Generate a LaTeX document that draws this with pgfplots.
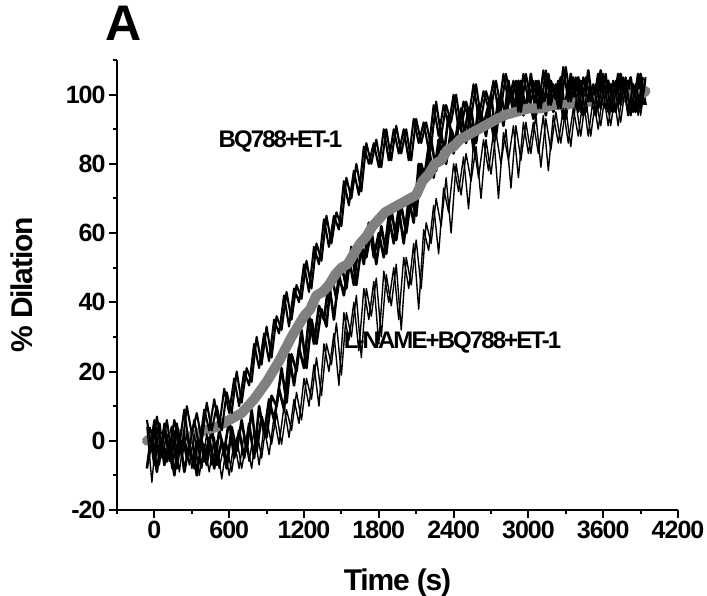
\documentclass[border=0pt]{standalone}
\usepackage{fontspec}
\setmainfont{Liberation Sans}[LetterSpace=-4]
\newfontfamily\tightfont{Liberation Sans}[LetterSpace=-8]
\usepackage{pgfplots}
\pgfplotsset{compat=1.18}
\definecolor{tracegray}{RGB}{128,128,128}
\begin{document}
\begin{tikzpicture}
\begin{axis}[
 scale only axis, width=561pt, height=450pt,
 xmin=-300, xmax=4200, ymin=-20, ymax=110,
 axis x line=bottom, axis y line=left,
 axis line style={-, line width=2pt},
 xtick={0,600,...,4200}, ytick={-20,0,...,100},
 minor xtick={-300,300,...,3900}, minor ytick={-10,10,...,110},
 tick align=outside, major tick length=8pt, minor tick length=4pt,
 tick style={black, line width=2pt},
 scaled x ticks=false,
 /pgf/number format/assume math mode=true,
 /pgf/number format/1000 sep={},
 tick label style={font=\bfseries\fontsize{25}{25}\selectfont},
 xlabel={Time (s)}, ylabel={\% Dilation},
 label style={font=\bfseries\fontsize{30}{30}\selectfont},
 xlabel style={at={(axis description cs:0.5,-0.1778)}, anchor=base},
 ylabel style={at={(axis description cs:-0.1515,0.5)}, anchor=base},
 title={A}, title style={at={(axis description cs:0.0125,1.0289)}, anchor=base, inner sep=0pt, text height=36pt, text depth=0pt, font=\bfseries\fontsize{50}{50}\selectfont},
 clip=false,
]
% D (middle black), two interleaved sample sets
\addplot[black, line width=2.6pt, line join=round] table[row sep=\\] {
-60 -8\\-20 3\\20 -9\\60 2\\100 -6\\140 4\\180 -8\\220 3\\260 -5\\300 2\\340 -10\\380 0\\420 -7\\460 4\\500 -7\\540 0\\580 -8\\620 4\\660 -3\\700 6\\740 -3\\780 9\\820 -3\\860 7\\900 1\\940 13\\980 10\\1020 21\\1060 11\\1100 25\\1140 20\\1180 32\\1220 21\\1260 35\\1300 28\\1340 38\\1380 33\\1420 48\\1460 41\\1500 51\\1540 44\\1580 56\\1620 45\\1660 56\\1700 53\\1740 61\\1780 51\\1820 62\\1860 54\\1900 67\\1940 58\\1980 68\\2020 60\\2060 70\\2100 65\\2140 80\\2180 75\\2220 87\\2260 78\\2300 89\\2340 80\\2380 90\\2420 86\\2460 96\\2500 86\\2540 96\\2580 86\\2620 95\\2660 88\\2700 100\\2740 88\\2780 100\\2820 93\\2860 102\\2900 95\\2940 104\\2980 95\\3020 106\\3060 94\\3100 102\\3140 94\\3180 104\\3220 98\\3260 105\\3300 93\\3340 106\\3380 97\\3420 104\\3460 95\\3500 102\\3540 94\\3580 107\\3620 96\\3660 103\\3700 95\\3740 106\\3780 98\\3820 105\\3860 95\\3900 106\\3940 97\\
};
\addplot[black, line width=2.6pt, line join=round] table[row sep=\\] {
-40 4\\0 -7\\40 5\\80 -7\\120 0\\160 -10\\200 2\\240 -9\\280 -1\\320 -8\\360 4\\400 -6\\440 1\\480 -8\\520 3\\560 -3\\600 6\\640 -5\\680 3\\720 -5\\760 5\\800 -5\\840 10\\880 2\\920 12\\960 6\\1000 15\\1040 9\\1080 25\\1120 16\\1160 27\\1200 21\\1240 36\\1280 28\\1320 39\\1360 35\\1400 46\\1440 35\\1480 48\\1520 42\\1560 53\\1600 45\\1640 58\\1680 51\\1720 63\\1760 53\\1800 60\\1840 53\\1880 65\\1920 57\\1960 67\\2000 57\\2040 70\\2080 63\\2120 80\\2160 75\\2200 85\\2240 76\\2280 87\\2320 82\\2360 94\\2400 83\\2440 93\\2480 87\\2520 96\\2560 84\\2600 97\\2640 91\\2680 97\\2720 88\\2760 99\\2800 91\\2840 104\\2880 94\\2920 104\\2960 94\\3000 101\\3040 93\\3080 104\\3120 96\\3160 106\\3200 95\\3240 104\\3280 93\\3320 103\\3360 98\\3400 105\\3440 94\\3480 107\\3520 96\\3560 106\\3600 97\\3640 104\\3680 95\\3720 106\\3760 98\\3800 104\\3840 95\\3880 106\\3920 97\\
};
% gray trace
\addplot[tracegray, line width=10pt, line join=round, line cap=round] table[row sep=\\] {
-60 0\\0 1\\100 0\\200 2\\300 1\\400 3\\500 4\\600 6\\700 8\\800 12\\900 17\\1000 23\\1100 30\\1150 33\\1200 36\\1250 38\\1300 42\\1350 43\\1400 45\\1450 48\\1500 50\\1550 51\\1600 54\\1650 57\\1700 59\\1750 62\\1800 64\\1850 66\\1900 67\\1950 68\\2000 69\\2050 70\\2100 71\\2150 75\\2200 77\\2250 80\\2300 81\\2350 84\\2400 85\\2450 87\\2500 88\\2600 90\\2700 92\\2800 94\\2900 95\\3000 96\\3100 96\\3200 97\\3300 97\\3400 98\\3500 98\\3600 99\\3700 99\\3800 100\\3900 100\\3940 101\\
};
% A (BQ788+ET-1, upper black)
\addplot[black, line width=2.1pt, line join=round] table[row sep=\\] {
-60 6\\-20 -3\\20 7\\60 -2\\100 6\\140 -4\\180 5\\220 -3\\260 10\\300 2\\340 8\\380 0\\420 11\\460 3\\500 10\\540 3\\580 14\\620 8\\660 20\\700 11\\740 21\\780 17\\820 30\\860 22\\900 33\\940 24\\980 36\\1020 32\\1060 43\\1100 35\\1140 45\\1180 41\\1220 52\\1260 44\\1300 57\\1340 52\\1380 65\\1420 57\\1460 66\\1500 62\\1540 76\\1580 70\\1620 80\\1660 72\\1700 86\\1740 80\\1780 87\\1820 79\\1860 90\\1900 81\\1940 91\\1980 83\\2020 90\\2060 81\\2100 93\\2140 86\\2180 92\\2220 85\\2260 98\\2300 88\\2340 97\\2380 92\\2420 100\\2460 90\\2500 98\\2540 93\\2580 103\\2620 93\\2660 101\\2700 96\\2740 104\\2780 96\\2820 106\\2860 98\\2900 104\\2940 95\\2980 106\\3020 98\\3060 104\\3100 96\\3140 107\\3180 97\\3220 103\\3260 96\\3300 108\\3340 98\\3380 105\\3420 95\\3460 105\\3500 98\\3540 103\\3580 96\\3620 106\\3660 95\\3700 104\\3740 97\\3780 105\\3820 94\\3860 103\\3900 96\\3940 105\\
};
\addplot[black, line width=2.1pt, line join=round] table[row sep=\\] {
-40 -3\\0 6\\40 -5\\80 5\\120 -3\\160 6\\200 -1\\240 9\\280 -2\\320 6\\360 -2\\400 9\\440 3\\480 12\\520 4\\560 15\\600 8\\640 18\\680 10\\720 20\\760 16\\800 28\\840 21\\880 31\\920 23\\960 35\\1000 31\\1040 42\\1080 33\\1120 44\\1160 40\\1200 51\\1240 43\\1280 56\\1320 51\\1360 64\\1400 56\\1440 65\\1480 61\\1520 75\\1560 68\\1600 78\\1640 71\\1680 85\\1720 80\\1760 86\\1800 79\\1840 90\\1880 81\\1920 90\\1960 83\\2000 90\\2040 81\\2080 93\\2120 86\\2160 92\\2200 84\\2240 97\\2280 88\\2320 97\\2360 91\\2400 100\\2440 90\\2480 98\\2520 93\\2560 103\\2600 93\\2640 101\\2680 96\\2720 104\\2760 95\\2800 106\\2840 98\\2880 104\\2920 95\\2960 106\\3000 98\\3040 104\\3080 96\\3120 107\\3160 97\\3200 103\\3240 96\\3280 108\\3320 98\\3360 105\\3400 95\\3440 105\\3480 98\\3520 103\\3560 96\\3600 106\\3640 95\\3680 104\\3720 97\\3760 105\\3800 94\\3840 103\\3880 96\\3920 105\\
};
% E (L-NAME+BQ788+ET-1, lower black)
\addplot[black, line width=1.4pt, line join=round] table[row sep=\\] {
-60 4\\-20 -12\\20 4\\60 -5\\100 2\\140 -8\\180 2\\220 -5\\260 2\\300 -8\\340 0\\380 -8\\420 2\\460 -7\\500 0\\540 -11\\580 -1\\620 -9\\660 1\\700 -8\\740 0\\780 -8\\820 3\\860 -5\\900 6\\940 -1\\980 8\\1020 -1\\1060 9\\1100 3\\1140 14\\1180 6\\1220 18\\1260 12\\1300 24\\1340 13\\1380 28\\1420 22\\1460 34\\1500 19\\1540 37\\1580 30\\1620 42\\1660 24\\1700 44\\1740 36\\1780 47\\1820 30\\1860 48\\1900 39\\1940 51\\1980 32\\2020 53\\2060 45\\2100 58\\2140 44\\2180 63\\2220 57\\2260 70\\2300 62\\2340 76\\2380 60\\2420 80\\2460 71\\2500 83\\2540 75\\2580 85\\2620 70\\2660 87\\2700 77\\2740 89\\2780 80\\2820 90\\2860 73\\2900 91\\2940 81\\2980 92\\3020 83\\3060 94\\3100 79\\3140 93\\3180 84\\3220 95\\3260 86\\3300 96\\3340 85\\3380 98\\3420 88\\3460 99\\3500 88\\3540 99\\3580 91\\3620 101\\3660 91\\3700 101\\3740 92\\3780 103\\3820 94\\3860 103\\3900 94\\3940 104\\
};
\addplot[black, line width=1.4pt, line join=round] table[row sep=\\] {
-40 -5\\0 5\\40 -7\\80 3\\120 -6\\160 3\\200 -9\\240 2\\280 -7\\320 2\\360 -10\\400 -1\\440 -9\\480 1\\520 -8\\560 -1\\600 -10\\640 0\\680 -8\\720 2\\760 -6\\800 3\\840 -7\\880 4\\920 -4\\960 7\\1000 -1\\1040 10\\1080 1\\1120 12\\1160 5\\1200 18\\1240 10\\1280 22\\1320 10\\1360 28\\1400 20\\1440 31\\1480 16\\1520 37\\1560 29\\1600 40\\1640 26\\1680 44\\1720 35\\1760 46\\1800 28\\1840 49\\1880 40\\1920 50\\1960 35\\2000 53\\2040 44\\2080 57\\2120 38\\2160 61\\2200 55\\2240 68\\2280 54\\2320 73\\2360 66\\2400 80\\2440 72\\2480 82\\2520 67\\2560 86\\2600 76\\2640 87\\2680 78\\2720 89\\2760 70\\2800 89\\2840 81\\2880 91\\2920 76\\2960 92\\3000 83\\3040 92\\3080 83\\3120 94\\3160 78\\3200 94\\3240 86\\3280 96\\3320 86\\3360 96\\3400 88\\3440 99\\3480 88\\3520 99\\3560 90\\3600 101\\3640 91\\3680 101\\3720 91\\3760 103\\3800 94\\3840 103\\3880 94\\3920 103\\
};
\node[anchor=west, inner sep=0pt, font=\tightfont\bfseries\fontsize{24}{24}\selectfont] at (axis cs:514,86.4) {BQ788+ET-1};
\node[anchor=west, inner sep=0pt, font=\tightfont\bfseries\fontsize{24}{24}\selectfont] at (axis cs:1518,28.4) {L-NAME+BQ788+ET-1};
\end{axis}
\pgfresetboundingbox
\path[use as bounding box] (-117pt,-86pt) rectangle (590pt,510pt);
\end{tikzpicture}
\end{document}
